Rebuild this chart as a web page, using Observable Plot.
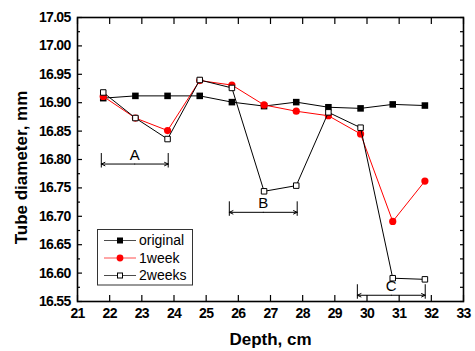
<!DOCTYPE html>
<html>
<head>
<meta charset="utf-8">
<script src="https://cdn.jsdelivr.net/npm/d3@7"></script>
<script src="https://cdn.jsdelivr.net/npm/@observablehq/plot@0.6"></script>
<style>
  html, body { margin: 0; padding: 0; background: #fff; }
  #chart { width: 475px; height: 351px; }
</style>
</head>
<body>
<div id="chart"></div>
<script>
// ---- data ----
const depth = [21.8, 22.8, 23.8, 24.8, 25.8, 26.8, 27.8, 28.8, 29.8, 30.8, 31.8];
const original = [16.908, 16.912, 16.912, 16.912, 16.901, 16.894, 16.901, 16.892, 16.890, 16.897, 16.895];
const week1 = [16.911, 16.873, 16.851, 16.939, 16.931, 16.896, 16.885, 16.877, 16.845, 16.691, 16.762];
const week2 = [16.918, 16.873, 16.836, 16.940, 16.926, 16.744, 16.754, 16.883, 16.856, 16.591, 16.589];
const seriesNames = ["original", "1week", "2weeks"];
const xTicks = [21, 22, 23, 24, 25, 26, 27, 28, 29, 30, 31, 32, 33];
const yTicks = [16.55, 16.60, 16.65, 16.70, 16.75, 16.80, 16.85, 16.90, 16.95, 17.00, 17.05];
const yMinorTicks = [16.575, 16.625, 16.675, 16.725, 16.775, 16.825, 16.875, 16.925, 16.975, 17.025];
const bracketLabels = ["A", "B", "C"];
const bracketStart = [21.74, 25.72, 29.70];
const bracketEnd = [23.82, 27.83, 31.81];
const bracketLevel = [16.792, 16.707, 16.561];
const xLabel = "Depth, cm";
const yLabel = "Tube diameter, mm";

const rows = (vals, name) => depth.map((d, i) => ({depth: d, value: vals[i], series: name}));
const dOrig = rows(original, seriesNames[0]);
const dW1 = rows(week1, seriesNames[1]);
const dW2 = rows(week2, seriesNames[2]);
const brackets = bracketLabels.map((l, i) => ({label: l, x1: bracketStart[i], x2: bracketEnd[i], y: bracketLevel[i], xm: (bracketStart[i] + bracketEnd[i]) / 2}));
const bracketEnds = brackets.flatMap(b => [{x: b.x1, y: b.y}, {x: b.x2, y: b.y}]);
const bracketHalves = brackets.flatMap(b => [{from: b.xm, to: b.x1, y: b.y}, {from: b.xm, to: b.x2, y: b.y}]);

const FONT = "'Liberation Sans', Arial, sans-serif";
const RED = "#ff0000";

const chart = Plot.plot({
  width: 475,
  height: 351,
  marginLeft: 77,
  marginRight: 12,
  marginTop: 17,
  marginBottom: 50,
  style: {fontFamily: FONT, background: "#fff", color: "#000"},
  x: {domain: [21, 33]},
  y: {domain: [16.55, 17.05]},
  marks: [
    // tick labels
    Plot.axisX(xTicks, {anchor: "bottom", tickSize: 0, tickPadding: 7, fontSize: 14, fontWeight: "bold", label: null, tickFormat: d3.format("d")}),
    Plot.axisY(yTicks, {anchor: "left", tickSize: 0, tickPadding: 7, fontSize: 14, fontWeight: "bold", label: null, tickFormat: d3.format(".2f")}),
    // inward ticks
    Plot.axisX(xTicks, {anchor: "bottom", tickSize: 6, dy: -6, fill: "none", label: null, strokeWidth: 1.2}),
    Plot.axisX(xTicks, {anchor: "top", tickSize: 6, dy: 6, fill: "none", label: null, strokeWidth: 1.2}),
    Plot.axisY(yTicks, {anchor: "left", tickSize: 5, dx: 5, fill: "none", label: null, strokeWidth: 1.2}),
    Plot.axisY(yMinorTicks, {anchor: "left", tickSize: 3, dx: 3, fill: "none", label: null, strokeWidth: 1.2}),
    Plot.axisY(yTicks, {anchor: "right", tickSize: 4, dx: -4, fill: "none", label: null, strokeWidth: 1.2}),
    Plot.axisY(yMinorTicks, {anchor: "right", tickSize: 4, dx: -4, fill: "none", label: null, strokeWidth: 1.2}),
    Plot.frame({stroke: "#000", strokeWidth: 1.6}),
    // x axis title
    Plot.text([xLabel], {text: d => d, frameAnchor: "bottom", dy: 38, fontSize: 17, fontWeight: "bold", lineAnchor: "middle"}),
    // brackets
    Plot.arrow(bracketHalves, {x1: "from", x2: "to", y1: "y", y2: "y", stroke: "#000", strokeWidth: 1, headLength: 6, headAngle: 50}),
    Plot.ruleX(bracketEnds, {x: "x", y1: d => d.y + 0.0185, y2: d => d.y - 0.007, stroke: "#000", strokeWidth: 1}),
    Plot.text(brackets, {x: "xm", y: "y", text: "label", dy: -9, fontSize: 15, lineAnchor: "middle", fill: "#000"}),
    // series
    Plot.line(dOrig, {x: "depth", y: "value", stroke: "#000", strokeWidth: 1}),
    Plot.dot(dOrig, {x: "depth", y: "value", symbol: "square", r: 3.7, fill: "#000", stroke: "none"}),
    Plot.line(dW1, {x: "depth", y: "value", stroke: RED, strokeWidth: 1}),
    Plot.dot(dW1, {x: "depth", y: "value", symbol: "circle", r: 3.6, fill: RED, stroke: "none"}),
    Plot.line(dW2, {x: "depth", y: "value", stroke: "#000", strokeWidth: 1}),
    Plot.dot(dW2, {x: "depth", y: "value", symbol: "square", r: 3.1, fill: "#fff", stroke: "#000", strokeWidth: 1})
  ]
});

const svg = d3.select(chart);
// tighter tick-label lettering, as in the reference
svg.selectAll("g[aria-label='y-axis tick label'], g[aria-label='x-axis tick label']")
  .style("letter-spacing", "-0.7px");

// y axis title
svg.append("text")
  .attr("transform", "translate(21,167.5) rotate(-90)")
  .attr("text-anchor", "middle")
  .attr("dy", "0.35em")
  .attr("font-family", FONT).attr("font-size", 17).attr("font-weight", "bold").attr("fill", "#000")
  .text(yLabel);

// legend box inside the plot area
const lg = svg.append("g").attr("font-family", FONT).attr("text-anchor", "start");
lg.append("rect").attr("x", 97.5).attr("y", 229.5).attr("width", 95).attr("height", 55.5)
  .attr("fill", "#fff").attr("stroke", "#333").attr("stroke-width", 1);
const legendItems = [
  {name: seriesNames[0], color: "#000", sym: "fsq"},
  {name: seriesNames[1], color: RED, sym: "circ"},
  {name: seriesNames[2], color: "#000", sym: "osq"}
];
legendItems.forEach((it, i) => {
  const cy = 240.5 + i * 17.5;
  lg.append("line").attr("x1", 104).attr("x2", 136).attr("y1", cy).attr("y2", cy)
    .attr("stroke", it.color).attr("stroke-width", 1).attr("stroke-opacity", 0.7);
  if (it.sym === "fsq") lg.append("rect").attr("x", 117).attr("y", cy - 3).attr("width", 6).attr("height", 6).attr("fill", "#000");
  if (it.sym === "circ") lg.append("circle").attr("cx", 120).attr("cy", cy).attr("r", 3.4).attr("fill", RED);
  if (it.sym === "osq") lg.append("rect").attr("x", 117.5).attr("y", cy - 2.5).attr("width", 5).attr("height", 5).attr("fill", "#fff").attr("stroke", "#000");
  lg.append("text").attr("x", 139).attr("y", cy).attr("dy", "0.35em").attr("font-size", 14).attr("fill", "#000").text(it.name);
});

document.getElementById("chart").appendChild(chart);
</script>
</body>
</html>
